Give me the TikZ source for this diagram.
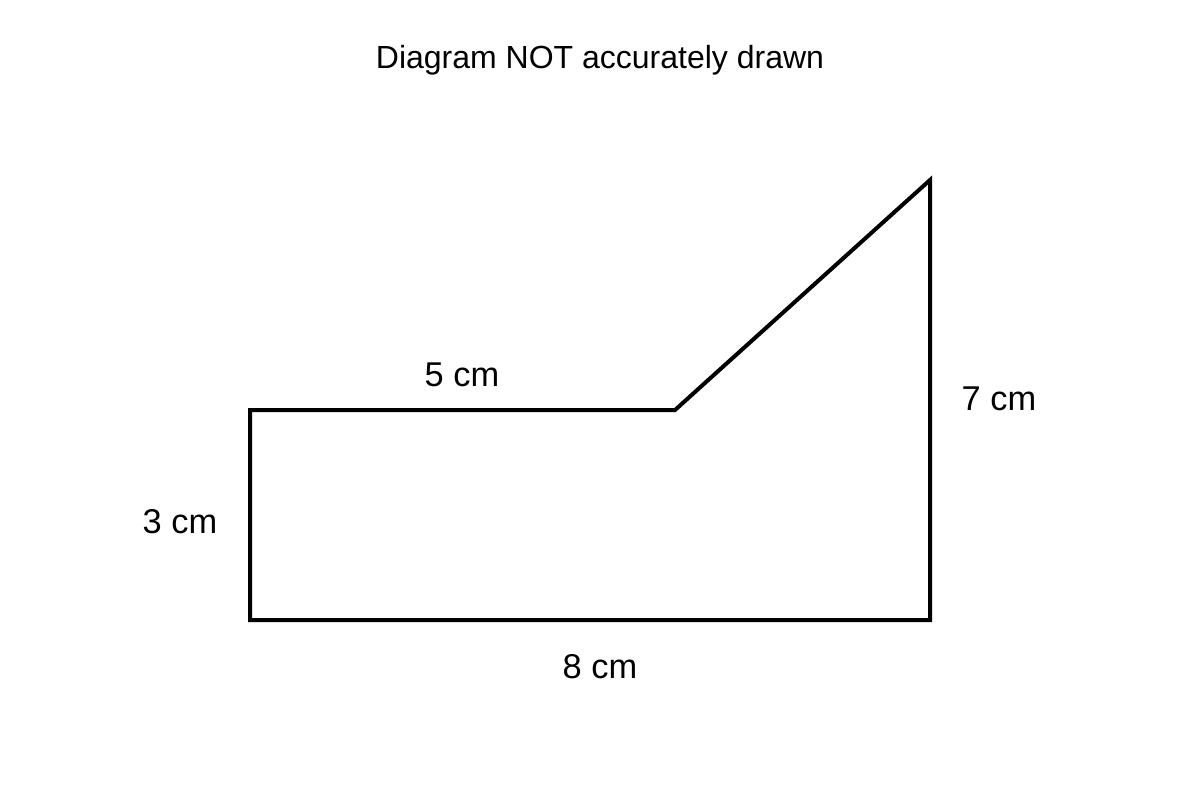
\documentclass[tikz,border=0pt]{standalone}
\usepackage{fontspec}
\setmainfont{Liberation Sans}
\begin{document}
\begin{tikzpicture}[x=0.5pt,y=-0.5pt,
  lbl/.style={font=\fontsize{17.2}{20}\selectfont, inner sep=0pt},
  ttl/.style={font=\fontsize{16}{20}\selectfont, inner sep=0pt},
  edge/.style={line width=2pt, line join=miter}]
\useasboundingbox (0,0) rectangle (1200,800);
\coordinate (A) at (250,410);
\coordinate (B) at (675,410);
\coordinate (C) at (930,180);
\coordinate (D) at (930,620);
\coordinate (E) at (250,620);
\draw[edge] (A) -- (B) -- (C) -- (D) -- (E) -- cycle;
\node[ttl] (title) at (600,60) {Diagram NOT accurately drawn};
\node[lbl] (top) at (462,375) {5 cm};
\node[lbl] (right) at (999,399) {7 cm};
\node[lbl] (left) at (180,522) {3 cm};
\node[lbl] (bottom) at (600,667) {8 cm};
\end{tikzpicture}
\end{document}
